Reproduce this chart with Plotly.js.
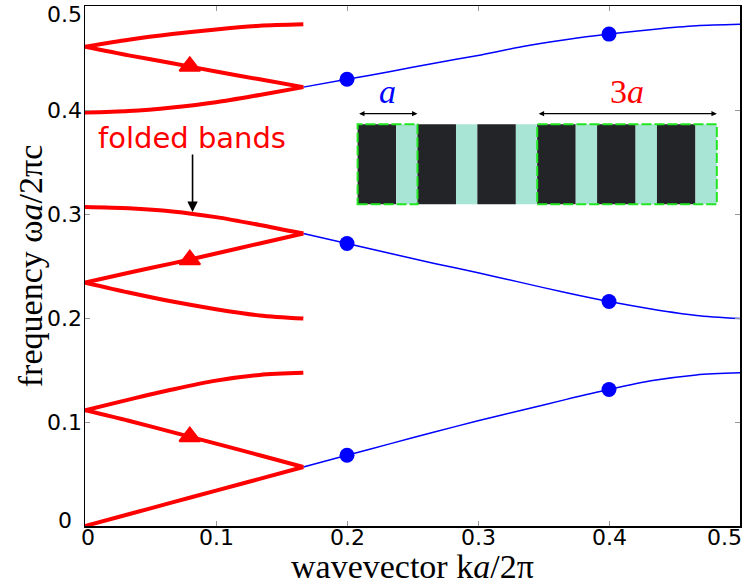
<!DOCTYPE html>
<html><head><meta charset="utf-8">
<script src="https://cdn.plot.ly/plotly-3.0.1.min.js"></script>
<style>html,body{margin:0;padding:0;background:#fff;} #chart{width:743px;height:585px;}</style>
</head><body><div id="chart"></div>
<script>
// wavevector grid (units of 2π/a), unfolded first Brillouin zone of period a
const kGrid = [0, 0.0333, 0.0667, 0.1, 0.1333, 0.1667, 0.2, 0.2333, 0.2667, 0.3, 0.3333, 0.3667, 0.4, 0.4333, 0.4667, 0.5];
// band frequencies ωa/2πc
const band1 = [0, 0.0113, 0.0227, 0.034, 0.0453, 0.0567, 0.068, 0.0792, 0.0903, 0.1012, 0.1113, 0.1215, 0.1312, 0.1398, 0.1453, 0.1473];
const band2 = [0.3067, 0.3055, 0.3025, 0.297, 0.2895, 0.2812, 0.2717, 0.262, 0.2525, 0.2435, 0.234, 0.2245, 0.2158, 0.2085, 0.2025, 0.1994];
const band3 = [0.3975, 0.399, 0.4025, 0.4075, 0.4145, 0.422, 0.4295, 0.437, 0.445, 0.4525, 0.4608, 0.4675, 0.473, 0.4775, 0.481, 0.4824];
// marked points
const dotK = [0.2, 0.4, 0.2, 0.4, 0.2, 0.4];
const dotW = [0.068, 0.1312, 0.2717, 0.2158, 0.4295, 0.473];
const triK = [0.08, 0.08, 0.08];
const triW = [0.0859, 0.2560, 0.4420];
const tickVals = [0, 0.1, 0.2, 0.3, 0.4, 0.5];
const tickText = ['0', '0.1', '0.2', '0.3', '0.4', '0.5'];

const bands = [band1, band2, band3];
const kB = 1/6 - 1e-3; // zone edge of the 3a supercell
const traces = [];
// blue: original bands outside the folded zone
bands.forEach(b => {
  const xs = [], ys = [];
  kGrid.forEach((k, i) => { if (k >= kB) { xs.push(k); ys.push(b[i]); } });
  traces.push({x: xs, y: ys, mode: 'lines', line: {color: '#0000ff', width: 1.5, shape: 'spline', smoothing: 0.8}, hoverinfo: 'skip', showlegend: false});
});
// red: folded bands in the 3a zone
bands.forEach(b => {
  const s1x = [], s1y = [], s2x = [], s2y = [], s3x = [], s3y = [];
  kGrid.forEach((k, i) => {
    if (k <= 1/6 + 1e-3) { s1x.push(k); s1y.push(b[i]); }
    if (k >= 1/6 - 1e-3 && k <= 1/3 + 1e-3) { s2x.push(Math.max(0, 1/3 - k)); s2y.push(b[i]); }
    if (k >= 1/3 - 1e-3) { s3x.push(Math.max(0, k - 1/3)); s3y.push(b[i]); }
  });
  [[s1x, s1y], [s2x, s2y], [s3x, s3y]].forEach(([xs, ys]) => {
    traces.push({x: xs, y: ys, mode: 'lines', line: {color: '#ff0000', width: 4, shape: 'spline', smoothing: 0.8}, hoverinfo: 'skip', showlegend: false});
  });
});
traces.push({x: dotK, y: dotW, mode: 'markers', marker: {color: '#0000ff', size: 15, symbol: 'circle'}, hoverinfo: 'skip', showlegend: false});
traces.push({x: triK, y: triW, mode: 'markers', marker: {color: '#ff0000', size: 18, symbol: 'triangle-up', line: {color: '#ff0000', width: 2}}, hoverinfo: 'skip', showlegend: false});

// inset schematic (layers)
const shapes = [];
const sx0 = 0.2081, period = 0.0457, blackW = 0.0294, sy0 = 0.3093, sy1 = 0.3863;
for (let p = 0; p < 6; p++) {
  const x0 = sx0 + p * period;
  shapes.push({type: 'rect', xref: 'x', yref: 'y', x0: x0, x1: x0 + blackW, y0: sy0, y1: sy1, fillcolor: '#222428', line: {width: 0}});
  shapes.push({type: 'rect', xref: 'x', yref: 'y', x0: x0 + blackW, x1: x0 + period, y0: sy0, y1: sy1, fillcolor: '#a8e5d5', line: {width: 0}});
}
shapes.push({type: 'rect', xref: 'x', yref: 'y', x0: sx0, x1: sx0 + period, y0: sy0, y1: sy1, fillcolor: 'rgba(0,0,0,0)', line: {color: '#22e622', width: 2, dash: '10px,3px'}});
shapes.push({type: 'rect', xref: 'x', yref: 'y', x0: sx0 + 3 * period, x1: sx0 + 6 * period, y0: sy0, y1: sy1, fillcolor: 'rgba(0,0,0,0)', line: {color: '#22e622', width: 2, dash: '10px,3px'}});

const arrowY = 0.3965;
const C = {xanchor: 'center', yanchor: 'middle', showarrow: false};
const annotations = [
  {x: sx0 + period, y: arrowY, ax: sx0, ay: arrowY, xref: 'x', yref: 'y', axref: 'x', ayref: 'y', text: '', showarrow: true, arrowside: 'end+start', arrowhead: 2, arrowsize: 0.9, arrowwidth: 1.2, arrowcolor: '#000'},
  {x: sx0 + 6 * period, y: arrowY, ax: sx0 + 3 * period, ay: arrowY, xref: 'x', yref: 'y', axref: 'x', ayref: 'y', text: '', showarrow: true, arrowside: 'end+start', arrowhead: 2, arrowsize: 0.9, arrowwidth: 1.2, arrowcolor: '#000'},
  Object.assign({x: sx0 + period / 2, y: 0.418, xref: 'x', yref: 'y', text: '<i>a</i>', font: {family: 'Liberation Serif', size: 34, color: '#0000ff'}}, C),
  Object.assign({x: sx0 + 4.5 * period, y: 0.418, xref: 'x', yref: 'y', text: '3<i>a</i>', font: {family: 'Liberation Serif', size: 34, color: '#ff0000'}}, C),
  Object.assign({x: 0.0814, y: 0.373, xref: 'x', yref: 'y', text: 'folded bands', font: {family: 'DejaVu Sans', size: 29, color: '#ff0000'}}, C),
  {x: 0.0821, y: 0.3019, ax: 0.0821, ay: 0.3587, xref: 'x', yref: 'y', axref: 'x', ayref: 'y', text: '', showarrow: true, arrowhead: 2, arrowsize: 1.3, arrowwidth: 1.6, arrowcolor: '#000'},
  // axis titles
  Object.assign({x: 0.5, y: 0, xref: 'paper', yref: 'paper', yshift: -40.8, text: 'wavevector k<i>a</i>/2π', font: {family: 'Liberation Serif', size: 34, color: '#000'}}, C),
  Object.assign({x: 0, y: 0.5, xref: 'x', yref: 'paper', xshift: -54.8, textangle: -90, text: 'frequency ω<i>a</i>/2πc', font: {family: 'Liberation Serif', size: 34, color: '#000'}}, C)
];
// tick labels (edge labels nudged inward as in the reference)
const tickFont = {family: 'DejaVu Sans', size: 22, color: '#000'};
tickVals.forEach((v, i) => {
  const last = i === tickVals.length - 1;
  annotations.push(Object.assign({x: v, y: 0, xref: 'x', yref: 'paper', yshift: -11.9, xshift: i === 0 ? 3 : (last ? -15.8 : 0), text: tickText[i], font: tickFont}, C));
  annotations.push(Object.assign({x: 0, y: v, xref: 'x', yref: 'y', xshift: -20.5, yshift: i === 0 ? 6 : (last ? -8.6 : 0), text: tickText[i], font: tickFont}, C));
});

const axisCommon = {
  range: [0, 0.5], tickvals: tickVals, ticks: 'inside', ticklen: 5, tickwidth: 1, tickcolor: '#999',
  showticklabels: false, showline: true, linecolor: '#000', linewidth: 1.5, mirror: 'ticks',
  showgrid: false, zeroline: false, fixedrange: true
};
const layout = {
  width: 743, height: 585,
  margin: {l: 85, r: 3, t: 6, b: 59},
  paper_bgcolor: '#fff', plot_bgcolor: '#fff',
  xaxis: Object.assign({}, axisCommon),
  yaxis: Object.assign({}, axisCommon),
  shapes: shapes, annotations: annotations, showlegend: false
};
Plotly.newPlot('chart', traces, layout, {displayModeBar: false, staticPlot: true});
</script></body></html>
